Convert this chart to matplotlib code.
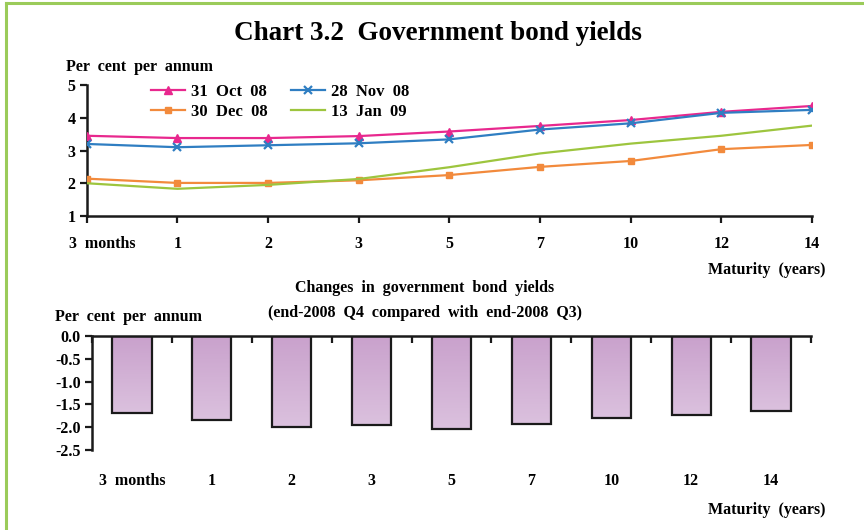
import numpy as np
import matplotlib
matplotlib.use("Agg")
import matplotlib.pyplot as plt
from matplotlib.lines import Line2D
from matplotlib.patches import Rectangle
from matplotlib.colors import LinearSegmentedColormap
import matplotlib.transforms as mtransforms

plt.rcParams["font.family"] = ["Liberation Serif", "DejaVu Serif"]
plt.rcParams["font.weight"] = "bold"
plt.rcParams["axes.unicode_minus"] = False

# Maturities
maturities = ["3  months", "1", "2", "3", "5", "7", "10", "12", "14"]

# Yield curves, per cent per annum
oct31_08 = [3.45, 3.38, 3.38, 3.44, 3.58, 3.75, 3.93, 4.18, 4.36]
nov28_08 = [3.20, 3.10, 3.16, 3.22, 3.34, 3.64, 3.83, 4.15, 4.24]
dec30_08 = [2.14, 2.01, 2.01, 2.09, 2.25, 2.50, 2.68, 3.04, 3.17]
jan13_09 = [2.00, 1.83, 1.95, 2.13, 2.49, 2.91, 3.21, 3.45, 3.76]

series_labels = ["31  Oct  08", "28  Nov  08", "30  Dec  08", "13  Jan  09"]

# Change in yields, end-2008 Q4 vs end-2008 Q3
changes = [-1.68, -1.85, -2.00, -1.96, -2.04, -1.93, -1.80, -1.73, -1.64]

top_yticks = [1, 2, 3, 4, 5]
bottom_yticks = [0.0, -0.5, -1.0, -1.5, -2.0, -2.5]

W, H = 864, 530
fig = plt.figure(figsize=(W / 100, H / 100), dpi=100)
fig.patch.set_facecolor("white")

# green frame (top and left edges)
frame = "#9BCB5A"
fig.add_artist(Line2D([6 / W, 1.0], [1 - 3 / H, 1 - 3 / H], color=frame, lw=2.2,
                      transform=fig.transFigure))
fig.add_artist(Line2D([6 / W, 6 / W], [0.0, 1 - 3 / H], color=frame, lw=2.2,
                      transform=fig.transFigure))

fig.text(438 / W, 1 - 33 / H, "Chart 3.2  Government bond yields", ha="center",
         va="center", fontsize=19.5, fontweight="bold")

ink = "#1a1a1a"
tfs = 11.5

# ---------------- top panel: yield curves ----------------
ax1 = fig.add_axes([86.7 / W, 1 - 216 / H, (812 - 86.7) / W, (216 - 85) / H])
x = np.arange(len(maturities))
l_oct, = ax1.plot(x, oct31_08, color="#E8288E", lw=1.6, marker="^", ms=5.5, label=series_labels[0], zorder=4)
l_nov, = ax1.plot(x, nov28_08, color="#2F7EC2", lw=1.6, marker="x", ms=6, mew=1.6, label=series_labels[1], zorder=4)
l_dec, = ax1.plot(x, dec30_08, color="#F28A3C", lw=1.6, marker="s", ms=4, label=series_labels[2], zorder=3)
l_jan, = ax1.plot(x, jan13_09, color="#9DC53E", lw=1.6, label=series_labels[3], zorder=3)
ax1.set_xlim(0, len(maturities) - 1)
ax1.set_ylim(1, 5)
ax1.set_yticks(top_yticks)
ax1.set_yticklabels([str(v) for v in top_yticks], fontsize=tfs, fontweight="bold")
ax1.set_xticks(x)
ax1.set_xticklabels([])
for s in ["top", "right"]:
    ax1.spines[s].set_visible(False)
for s in ["left", "bottom"]:
    ax1.spines[s].set_linewidth(1.8)
    ax1.spines[s].set_color(ink)
ax1.tick_params(axis="both", direction="out", length=5, width=1.6, color=ink, pad=3)
ax1.patch.set_alpha(0)

lab_tr = mtransforms.blended_transform_factory(ax1.transData, fig.transFigure)
for i, lab in enumerate(maturities):
    off = mtransforms.offset_copy(lab_tr, fig=fig, x=16 if i == 0 else 0, y=0, units="dots")
    ax1.text(i, 1 - 244 / H, lab, transform=off, ha="center", va="center",
             fontsize=tfs, fontweight="bold", clip_on=False)

fig.text(66 / W, 1 - 67 / H, "Per  cent  per  annum", ha="left", va="center",
         fontsize=tfs, fontweight="bold")
fig.text(825 / W, 1 - 270 / H, "Maturity  (years)", ha="right", va="center",
         fontsize=tfs, fontweight="bold")

# legend filled row by row: Oct / Nov on the first row, Dec / Jan on the second
handles = [l_oct, l_dec, l_nov, l_jan]
leg = ax1.legend(handles, [h.get_label() for h in handles], loc="upper left",
                 bbox_to_anchor=(58 / (812 - 86.7), 1.06), ncol=2,
                 frameon=False, fontsize=tfs + 0.5, handlelength=2.0, handletextpad=0.4,
                 columnspacing=1.4, labelspacing=0.25, borderaxespad=0)
for t in leg.get_texts():
    t.set_fontweight("bold")

# ---------------- bottom panel: changes ----------------
ax2 = fig.add_axes([92 / W, 1 - 450 / H, (811 - 92) / W, (450 - 336) / H])
n = len(changes)
pos = np.arange(n) + 0.5
bw = 0.49
cmap = LinearSegmentedColormap.from_list("lilac", ["#C9A1CC", "#DBC1DE"])
grad = np.linspace(0, 1, 256).reshape(-1, 1)
for p, v in zip(pos, changes):
    rect = Rectangle((p - bw / 2, v), bw, -v, facecolor="none", edgecolor=ink,
                     lw=1.6, zorder=3)
    ax2.add_patch(rect)
    im = ax2.imshow(grad, cmap=cmap, aspect="auto", origin="upper",
                    extent=(p - bw / 2, p + bw / 2, v, 0), zorder=2)
    im.set_clip_path(rect)

ax2.set_xlim(0, n)
ax2.set_ylim(-2.5, 0)
ax2.set_yticks(bottom_yticks)
ax2.set_yticklabels([f"{v:.1f}" for v in bottom_yticks], fontsize=tfs, fontweight="bold")
ax2.xaxis.set_ticks_position("top")
ax2.set_xticks(np.arange(n + 1))
ax2.set_xticklabels([])
ax2.spines["bottom"].set_visible(False)
ax2.spines["right"].set_visible(False)
for s in ["left", "top"]:
    ax2.spines[s].set_linewidth(1.8)
    ax2.spines[s].set_color(ink)
ax2.tick_params(axis="x", direction="in", length=5, width=1.6, color=ink)
ax2.tick_params(axis="y", direction="out", length=5, width=1.6, color=ink, pad=3)

lab_tr2 = mtransforms.blended_transform_factory(ax2.transData, fig.transFigure)
for p, lab in zip(pos, maturities):
    ax2.text(p, 1 - 481 / H, lab, transform=lab_tr2, ha="center", va="center",
             fontsize=tfs, fontweight="bold", clip_on=False)

fig.text(55 / W, 1 - 317 / H, "Per  cent  per  annum", ha="left", va="center",
         fontsize=tfs, fontweight="bold")
fig.text(425 / W, 1 - 288 / H, "Changes  in  government  bond  yields", ha="center",
         va="center", fontsize=tfs, fontweight="bold")
fig.text(425 / W, 1 - 313 / H, "(end-2008  Q4  compared  with  end-2008  Q3)", ha="center",
         va="center", fontsize=tfs, fontweight="bold")
fig.text(825 / W, 1 - 510 / H, "Maturity  (years)", ha="right", va="center",
         fontsize=tfs, fontweight="bold")

fig.savefig("out.png", dpi=100, facecolor="white")
